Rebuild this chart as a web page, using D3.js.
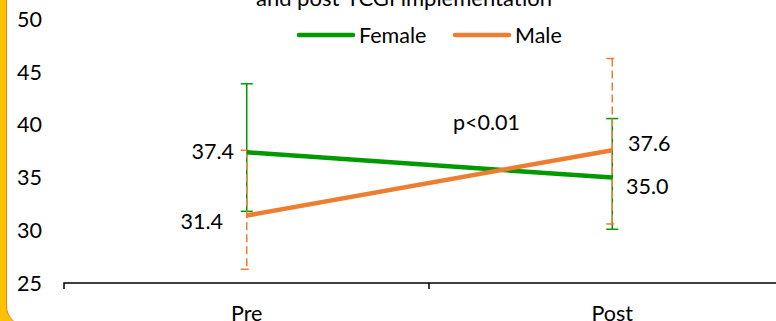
<!DOCTYPE html>
<html>
<head>
<meta charset="utf-8">
<script src="https://cdn.jsdelivr.net/npm/d3@7"></script>
<style>
  body { margin: 0; background: #fff; }
  svg { display: block; font-family: Lato, "Open Sans", sans-serif; }
</style>
</head>
<body>
<svg id="chart" width="776" height="321"></svg>
<script>
// values
const periods = ["Pre", "Post"];
const female = [37.4, 35.0];
const male = [31.4, 37.6];
const femaleHi = [43.9, 40.6];
const femaleLo = [31.8, 30.1];
const maleHi = [37.6, 46.3];
const maleLo = [26.3, 30.6];
const yTicks = [25, 30, 35, 40, 45, 50];
const labels = ["37.4", "35.0"];
const maleLabels = ["31.4", "37.6"];

const green = "#009a00", orange = "#ed7d31";
const fs = 21.5;

const svg = d3.select("#chart");

// frame: yellow border with rounded corner
svg.append("rect").attr("width", 776).attr("height", 321).attr("fill", "#ffc000");
svg.append("rect")
  .attr("x", 6.5).attr("y", -30).attr("width", 820).attr("height", 356).attr("rx", 20)
  .attr("fill", "#fff").attr("stroke", orange).attr("stroke-width", 1);

const x = d3.scaleBand().domain(periods).range([64, 795]);
const y = d3.scaleLinear().domain([25, 50]).range([283, 19.5]);
const cx = d => x(d) + x.bandwidth() / 2;

// title (cut off at top)
svg.append("text").attr("x", 404).attr("y", 6).attr("text-anchor", "middle")
  .attr("font-size", 22).text("and post-TCGI implementation");

// y tick labels, no axis line
svg.append("g").selectAll("text").data(yTicks).join("text")
  .attr("x", 42).attr("y", d => y(d)).attr("dy", "0.35em")
  .attr("text-anchor", "end").attr("font-size", fs).text(d => d);

// x axis
const xAxis = d3.axisBottom(x).tickSize(0).tickFormat("");
const gx = svg.append("g").attr("transform", "translate(0,283)").call(xAxis);
gx.select(".domain").attr("stroke", "#000").attr("stroke-width", 1.5).attr("d", "M64,6V0H795");
gx.append("line").attr("x1", 429).attr("x2", 429).attr("y1", 0).attr("y2", 6)
  .attr("stroke", "#000").attr("stroke-width", 1.5);
svg.append("g").selectAll("text").data(periods).join("text")
  .attr("x", d => cx(d)).attr("y", 321).attr("text-anchor", "middle")
  .attr("font-size", fs).text(d => d);

// error bars
function errBars(hi, lo, color, dash) {
  const g = svg.append("g").attr("stroke", color).attr("stroke-width", 1.5)
    .attr("stroke-dasharray", dash);
  periods.forEach((p, i) => {
    g.append("line").attr("x1", cx(p)).attr("x2", cx(p)).attr("y1", y(hi[i])).attr("y2", y(lo[i]));
    [hi[i], lo[i]].forEach(v => {
      g.append("line").attr("x1", cx(p) - 6).attr("x2", cx(p) + 6)
        .attr("y1", y(v)).attr("y2", y(v)).attr("stroke-dasharray", null);
    });
  });
}
errBars(femaleHi, femaleLo, green, null);
errBars(maleHi, maleLo, orange, "8,4");

// lines
const line = d3.line().x((d, i) => cx(periods[i])).y(d => y(d));
svg.append("path").datum(female).attr("d", line).attr("fill", "none")
  .attr("stroke", green).attr("stroke-width", 4.5);
svg.append("path").datum(male).attr("d", line).attr("fill", "none")
  .attr("stroke", orange).attr("stroke-width", 4.5);

// data labels
svg.append("text").attr("x", 234).attr("y", 151).attr("dy", "0.35em")
  .attr("text-anchor", "end").attr("font-size", fs).text(labels[0]);
svg.append("text").attr("x", 626).attr("y", 186).attr("dy", "0.35em")
  .attr("font-size", fs).text(labels[1]);
svg.append("text").attr("x", 223).attr("y", 221).attr("dy", "0.35em")
  .attr("text-anchor", "end").attr("font-size", fs).text(maleLabels[0]);
svg.append("text").attr("x", 628).attr("y", 143).attr("dy", "0.35em")
  .attr("font-size", fs).text(maleLabels[1]);
svg.append("text").attr("x", 453).attr("y", 122).attr("dy", "0.35em")
  .attr("font-size", fs).text("p<0.01");

// legend
const legend = [{name: "Female", color: green, x: 299}, {name: "Male", color: orange, x: 455}];
const lg = svg.append("g").selectAll("g").data(legend).join("g")
  .attr("transform", d => `translate(${d.x},35)`);
lg.append("line").attr("x1", 0).attr("x2", 54).attr("stroke", d => d.color)
  .attr("stroke-width", 4.5).attr("stroke-linecap", "round");
lg.append("text").attr("x", 60).attr("dy", "0.35em").attr("font-size", fs).text(d => d.name);
</script>
</body>
</html>
